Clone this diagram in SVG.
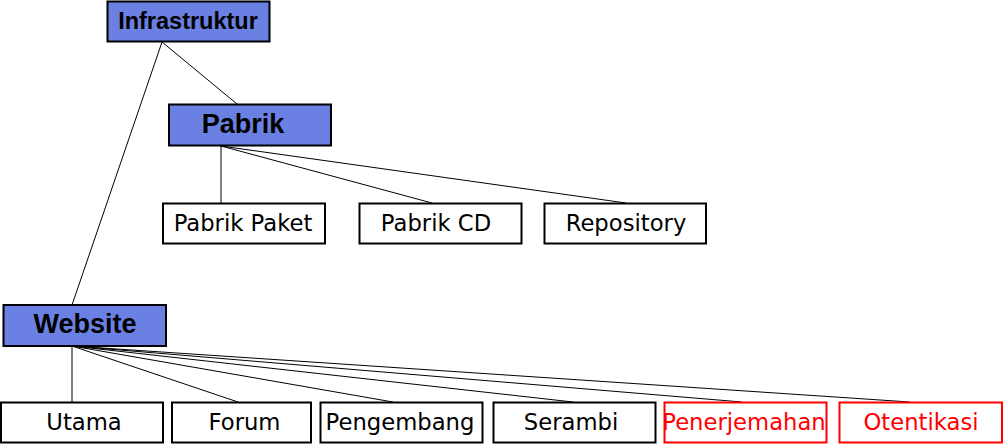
<svg xmlns="http://www.w3.org/2000/svg" width="1003" height="444" viewBox="0 0 1003 444">
<style>
.hub{fill:#6b80e3;stroke:#000;stroke-width:2}
.leaf{fill:#fff;stroke:#000;stroke-width:2}
.red{fill:#fff;stroke:#ff0000;stroke-width:2}
.bt{font-family:"Liberation Sans",Arial,sans-serif;font-weight:bold;fill:#000;text-anchor:middle}
.lt{font-family:"DejaVu Sans",Verdana,sans-serif;font-size:22.7px;fill:#000;text-anchor:middle}
.rt{fill:#ff0000}
.conn line{stroke:#000;stroke-width:1}
</style>
<rect width="1003" height="444" fill="#fff"/>
<g class="conn" id="connectors">
<line x1="162" y1="42" x2="237" y2="104"/>
<line x1="162" y1="42" x2="72" y2="305"/>
<line x1="221" y1="146" x2="221" y2="203"/>
<line x1="221" y1="146" x2="432" y2="203"/>
<line x1="221" y1="146" x2="626" y2="203"/>
<line x1="72" y1="346" x2="72" y2="402"/>
<line x1="72" y1="346" x2="238" y2="402"/>
<line x1="72" y1="346" x2="393" y2="402"/>
<line x1="72" y1="346" x2="573" y2="402"/>
<line x1="72" y1="346" x2="742" y2="402"/>
<line x1="72" y1="346" x2="910" y2="402"/>
</g>
<g id="infrastruktur"><rect class="hub" x="107.5" y="1.5" width="162" height="40"/><text class="bt" x="188" y="29" font-size="23.5">Infrastruktur</text></g>
<g id="pabrik"><rect class="hub" x="169" y="104.5" width="162" height="41"/><text class="bt" x="243" y="133" font-size="27">Pabrik</text></g>
<g id="website"><rect class="hub" x="3.5" y="305" width="162.5" height="41"/><text class="bt" x="85" y="333" font-size="27">Website</text></g>
<g id="pabrik-paket"><rect class="leaf" x="163" y="203.5" width="162" height="40"/><text class="lt" x="243" y="231">Pabrik Paket</text></g>
<g id="pabrik-cd"><rect class="leaf" x="359.5" y="203.5" width="162" height="40"/><text class="lt" x="436" y="231">Pabrik CD</text></g>
<g id="repository"><rect class="leaf" x="544.5" y="203.5" width="161.5" height="40"/><text class="lt" x="626" y="231">Repository</text></g>
<g id="utama"><rect class="leaf" x="1" y="402.5" width="162" height="40"/><text class="lt" x="84" y="430">Utama</text></g>
<g id="forum"><rect class="leaf" x="172" y="402.5" width="139" height="40"/><text class="lt" x="244.5" y="430">Forum</text></g>
<g id="pengembang"><rect class="leaf" x="320.5" y="402.5" width="162" height="40"/><text class="lt" x="400" y="430">Pengembang</text></g>
<g id="serambi"><rect class="leaf" x="493.5" y="402.5" width="162" height="40"/><text class="lt" x="571" y="430">Serambi</text></g>
<g id="penerjemahan"><rect class="red" x="664.5" y="402.5" width="162" height="40"/><text class="lt rt" x="744" y="430">Penerjemahan</text></g>
<g id="otentikasi"><rect class="red" x="839.5" y="402.5" width="162.5" height="40"/><text class="lt rt" x="921" y="430">Otentikasi</text></g>
</svg>
